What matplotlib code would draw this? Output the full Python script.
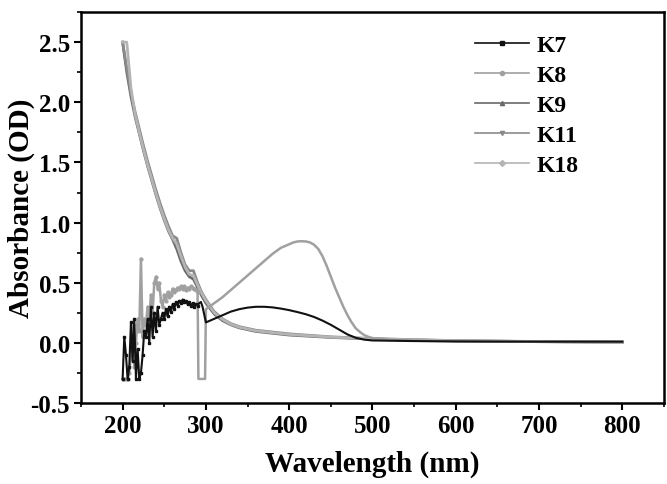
import numpy as np
import matplotlib
matplotlib.use("Agg")
from matplotlib import pyplot as plt
from matplotlib.lines import Line2D
from matplotlib.ticker import MultipleLocator

plt.rcParams['font.family'] = ['Liberation Serif', 'DejaVu Serif']
plt.rcParams['font.weight'] = 'bold'
plt.rcParams['axes.unicode_minus'] = False

# noisy region (200-290 nm) for K7 and K8
wl_noise = [200, 202, 204, 206, 208, 210, 212, 214, 216, 218, 220, 222, 224, 226,
            228, 230, 232, 234, 236, 238, 240, 242, 244, 246, 248, 250, 252, 254,
            256, 258, 260, 262, 264, 266, 268, 270, 272, 274, 276, 278, 280, 282,
            284, 286, 288, 290]
k7_noise = [-0.3, 0.05, -0.1, -0.3, -0.2, 0.17, -0.15, 0.2, -0.3, -0.05, -0.3, -0.25,
            -0.1, 0.1, 0.05, 0.2, 0.0, 0.3, 0.05, 0.25, 0.1, 0.3, 0.15, 0.2, 0.25, 0.2,
            0.28, 0.22, 0.3, 0.26, 0.32, 0.28, 0.34, 0.31, 0.35, 0.33, 0.36, 0.34, 0.35,
            0.32, 0.34, 0.31, 0.33, 0.30, 0.32, 0.31]
k8_noise = [-0.3, -0.3, -0.3, -0.3, -0.25, -0.1, 0.15, -0.2, 0.0, 0.2, 0.1, 0.7,
            0.05, 0.2, 0.15, 0.3, 0.2, 0.4, 0.25, 0.5, 0.55, 0.45, 0.5, 0.35, 0.3, 0.4,
            0.35, 0.42, 0.38, 0.4, 0.45, 0.42, 0.44, 0.46, 0.45, 0.47, 0.45, 0.47, 0.44,
            0.46, 0.45, 0.47, 0.46, 0.45, 0.44, 0.42]

# smooth region for K7 and K8
wl_k7_tail = [292, 294, 296, 300, 310, 320, 330, 340, 350, 360, 370, 380, 390, 400,
              410, 420, 430, 440, 450, 460, 470, 480, 490, 500,
              550, 600, 700, 800]
k7_tail = [0.33, 0.34, 0.30, 0.17, 0.20, 0.23, 0.26, 0.28, 0.293, 0.30, 0.30, 0.295,
           0.285, 0.272, 0.256, 0.238, 0.215, 0.185, 0.15, 0.11, 0.07, 0.042, 0.027,
           0.02, 0.015, 0.012, 0.01, 0.01]
wl_k8_tail = [291, 299, 300, 310, 320, 330, 340, 350, 360, 370, 380, 390, 400, 405,
              410, 415, 420, 425, 430, 435, 440, 445, 450, 455, 460, 465, 470, 475,
              480, 485, 490, 495, 500, 520, 550, 600, 700, 800]
k8_tail = [-0.3, -0.3, 0.28, 0.33, 0.38, 0.44, 0.50, 0.56, 0.62, 0.68, 0.74, 0.79,
           0.82, 0.835, 0.843, 0.845, 0.843, 0.835, 0.815, 0.78, 0.72, 0.64, 0.55,
           0.46, 0.38, 0.30, 0.23, 0.17, 0.12, 0.09, 0.065, 0.05, 0.04, 0.025, 0.018,
           0.013, 0.01, 0.01]

# decreasing curves
wl_dec = [200, 205, 210, 215, 220, 225, 230, 235, 240, 245, 250, 255, 260, 265, 270,
          275, 280, 285, 290, 295, 300, 310, 320, 330, 340, 350, 360, 380, 400, 450,
          500, 550, 600, 700, 800]
k9 = [2.5, 2.25, 2.05, 1.88, 1.74, 1.60, 1.47, 1.35, 1.23, 1.12, 1.02, 0.93, 0.86,
      0.78, 0.68, 0.60, 0.55, 0.53, 0.46, 0.39, 0.33, 0.24, 0.185, 0.15, 0.125, 0.11,
      0.095, 0.08, 0.065, 0.045, 0.032, 0.024, 0.017, 0.01, 0.005]
k11 = [2.5, 2.28, 2.08, 1.92, 1.78, 1.64, 1.51, 1.39, 1.27, 1.16, 1.06, 0.97, 0.89,
       0.87, 0.75, 0.65, 0.60, 0.60, 0.50, 0.42, 0.36, 0.26, 0.20, 0.16, 0.135, 0.12,
       0.105, 0.09, 0.075, 0.05, 0.036, 0.026, 0.019, 0.011, 0.006]
k18 = [2.5, 2.5, 2.12, 1.90, 1.75, 1.61, 1.48, 1.36, 1.24, 1.13, 1.03, 0.94, 0.87,
       0.82, 0.72, 0.63, 0.57, 0.56, 0.48, 0.41, 0.35, 0.25, 0.195, 0.155, 0.13,
       0.115, 0.10, 0.085, 0.07, 0.048, 0.034, 0.025, 0.018, 0.01, 0.005]

labels = ["K7", "K8", "K9", "K11", "K18"]
colors = ["#111111", "#a0a0a0", "#6a6a6a", "#8a8a8a", "#b4b4b4"]
markers = ["s", "o", "^", "v", "D"]

fig = plt.figure(figsize=(6.67, 4.85), dpi=100)
ax = fig.add_axes([0.1214, 0.167, 0.8741, 0.806])

ax.plot(wl_dec, k9, color=colors[2], lw=2.0)
ax.plot(wl_dec, k11, color=colors[3], lw=2.0)
ax.plot(wl_dec, k18, color=colors[4], lw=2.0)
ax.plot(wl_noise + wl_k8_tail, k8_noise + k8_tail, color=colors[1], lw=1.8)
ax.plot(wl_noise, k8_noise, color=colors[1], lw=0, marker='o', ms=2)
ax.plot(wl_noise + wl_k7_tail, k7_noise + k7_tail, color=colors[0], lw=1.5)
ax.plot(wl_noise, k7_noise, color=colors[0], lw=0, marker='s', ms=2)

ax.set_xlim(150, 850)
ax.set_ylim(-0.5, 2.75)
ax.xaxis.set_minor_locator(MultipleLocator(50))
ax.yaxis.set_minor_locator(MultipleLocator(0.25))
ax.set_yticks([-0.5, 0.0, 0.5, 1.0, 1.5, 2.0, 2.5])
ax.set_xticks([200, 300, 400, 500, 600, 700, 800])
ax.tick_params(which='major', direction='out', length=5, width=1.5, labelsize=18, pad=3)
ax.tick_params(which='minor', direction='out', length=3, width=1.2)
for s in ax.spines.values():
    s.set_linewidth(1.8)

ax.set_xlabel("Wavelength (nm)", fontsize=21, fontweight='bold', labelpad=9)
ax.set_ylabel("Absorbance (OD)", fontsize=21, fontweight='bold')
ax.yaxis.set_label_coords(-0.079, 0.5)

handles = [Line2D([], [], color=c, marker=m, ms=3, lw=1.2) for c, m in zip(colors, markers)]
ax.legend(handles, labels, loc='upper left', bbox_to_anchor=(0.676, 0.942), frameon=False,
          handlelength=2.3, labelspacing=0.36, handletextpad=0.3, borderpad=0,
          borderaxespad=0, prop={'weight': 'bold', 'size': 17})

fig.savefig("out.png", dpi=100)
